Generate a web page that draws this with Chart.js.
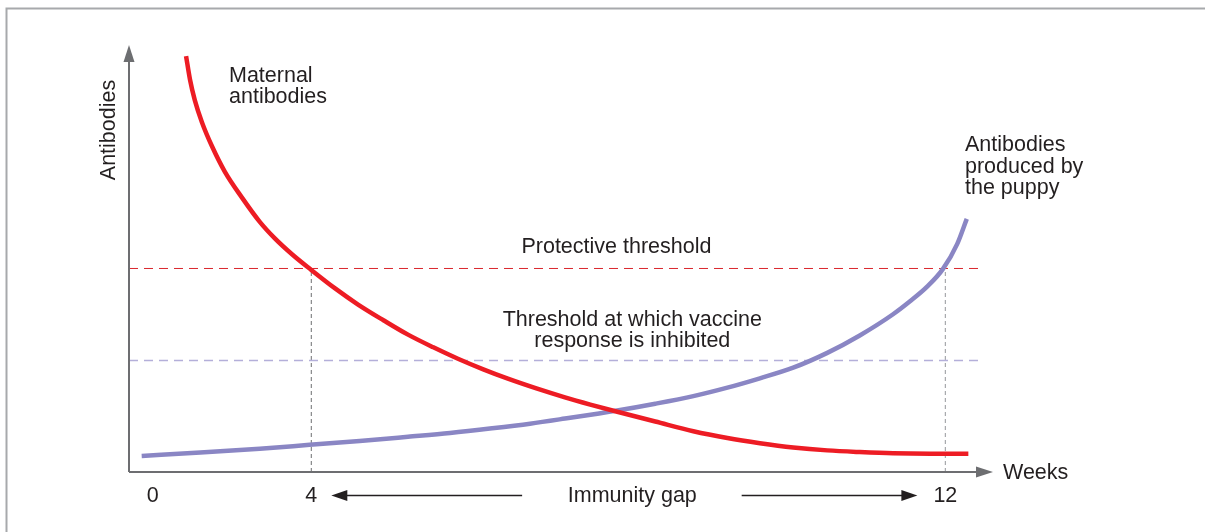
<!DOCTYPE html>
<html>
<head>
<meta charset="utf-8">
<title>Immunity gap</title>
<script src="https://cdn.jsdelivr.net/npm/chart.js@4.4.1/dist/chart.umd.min.js"></script>
<style>
  html, body { margin: 0; padding: 0; background: #fff; }
  #wrap { width: 1205px; height: 532px; }
</style>
</head>
<body>
<div id="wrap"><canvas id="gapChart" width="1205" height="532"></canvas></div>
<script>
// weeks on x, antibody level (0-100, arbitrary) on y
var maternalWeeks  = [2.42, 2.47, 2.53, 2.62, 2.75, 2.91, 3.13, 3.35, 3.54, 3.76, 3.99, 4.30, 4.59, 4.91, 5.22,
                      5.54, 5.85, 6.17, 6.48, 6.84, 7.20, 7.52, 7.86, 8.34, 8.82, 9.25, 9.66, 10.08, 10.51, 10.92, 11.34, 11.81, 12.29];
var maternalLevels = [98.1, 92.5, 87.7, 82.5, 76.7, 70.8, 64.6, 59.0, 55.1, 51.3, 47.8, 43.3, 39.5, 35.8, 32.4,
                      29.4, 26.7, 24.2, 22.0, 19.7, 17.6, 15.9, 14.2, 11.9, 9.6, 8.0, 6.8, 5.8, 5.1, 4.7, 4.4, 4.3, 4.3];

var puppyWeeks  = [1.86, 2.60, 3.35, 3.98, 4.61, 5.22, 5.75, 6.28, 6.76, 7.20, 7.86, 8.34, 8.82, 9.25, 9.66,
                   10.08, 10.51, 10.92, 11.34, 11.55, 11.77, 11.97, 12.15, 12.27];
var puppyLevels = [3.8, 4.6, 5.5, 6.4, 7.3, 8.3, 9.2, 10.3, 11.4, 12.6, 14.5, 16.1, 17.9, 19.9, 22.1,
                   24.6, 28.1, 32.2, 37.2, 40.2, 43.7, 47.9, 53.8, 59.7];

var protectiveLevel = 48.0;
var inhibitionLevel = 26.3;
var thresholdSpan = [1.7, 12.45];
var guideWeeks = [4, 12];

// the "0" label sits near the origin, axis is schematic
var tickWeeks = [2, 4, 12];
var tickLabels = ['0', '4', '12'];

var TXT = '#231f20';
var FONT = '21.5px "Liberation Sans", Arial, Helvetica, sans-serif';
var AXIS = '#6d6e71';

function pts(xs, ys) {
    return xs.map(function(x, i){ return {x: x, y: ys[i]}; });
}

function arrowHead(ctx, tipX, tipY, dir, len, half, color) {
    ctx.save();
    ctx.fillStyle = color;
    ctx.beginPath();
    if (dir == 'up') {
        ctx.moveTo(tipX, tipY);
        ctx.lineTo(tipX - half, tipY + len);
        ctx.lineTo(tipX + half, tipY + len);
    } else if (dir == 'right') {
        ctx.moveTo(tipX, tipY);
        ctx.lineTo(tipX - len, tipY - half);
        ctx.lineTo(tipX - len, tipY + half);
    } else {
        ctx.moveTo(tipX, tipY);
        ctx.lineTo(tipX + len, tipY - half);
        ctx.lineTo(tipX + len, tipY + half);
    }
    ctx.closePath();
    ctx.fill();
    ctx.restore();
}

var decor = {
    id: 'decor',
    beforeDraw: function(chart) {
        var ctx = chart.ctx;
        ctx.save();
        ctx.fillStyle = '#fff';
        ctx.fillRect(0, 0, chart.width, chart.height);
        // frame around the figure
        ctx.strokeStyle = '#a7a9ac';
        ctx.lineWidth = 2;
        ctx.beginPath();
        ctx.moveTo(6.5, chart.height);
        ctx.lineTo(6.5, 8.5);
        ctx.lineTo(chart.width, 8.5);
        ctx.stroke();
        ctx.restore();
    },
    afterDraw: function(chart) {
        var ctx = chart.ctx;
        var xs = chart.scales.x, ys = chart.scales.y;
        var a = chart.chartArea;
        var ox = a.left, oy = a.bottom;

        // axes
        ctx.save();
        ctx.strokeStyle = AXIS;
        ctx.lineWidth = 2;
        ctx.beginPath();
        ctx.moveTo(ox, oy);
        ctx.lineTo(ox, a.top + 12);
        ctx.moveTo(ox, oy);
        ctx.lineTo(a.right - 4, oy);
        ctx.stroke();
        ctx.restore();
        arrowHead(ctx, ox, a.top - 3, 'up', 17, 5.5, AXIS);
        arrowHead(ctx, a.right + 8, oy, 'right', 17, 5.5, AXIS);

        ctx.save();
        ctx.fillStyle = TXT;
        ctx.font = FONT;
        ctx.textBaseline = 'alphabetic';

        // tick labels
        ctx.textAlign = 'center';
        tickWeeks.forEach(function(w, i){
            ctx.fillText(tickLabels[i], xs.getPixelForValue(w), oy + 30);
        });

        // immunity gap arrow row
        var rowY = oy + 23.5;
        ctx.fillText('Immunity gap', xs.getPixelForValue(8.05), oy + 30);
        ctx.strokeStyle = '#231f20';
        ctx.lineWidth = 1.4;
        ctx.beginPath();
        ctx.moveTo(xs.getPixelForValue(4) + 30, rowY);
        ctx.lineTo(xs.getPixelForValue(6.66), rowY);
        ctx.moveTo(xs.getPixelForValue(9.43), rowY);
        ctx.lineTo(xs.getPixelForValue(12) - 40, rowY);
        ctx.stroke();
        arrowHead(ctx, xs.getPixelForValue(4) + 20, rowY, 'left', 16, 5.5, '#231f20');
        arrowHead(ctx, xs.getPixelForValue(12) - 28, rowY, 'right', 16, 5.5, '#231f20');

        // annotations
        ctx.textAlign = 'left';
        ctx.fillText('Weeks', a.right + 18, oy + 7);
        ctx.fillText('Maternal', 229, 82);
        ctx.fillText('antibodies', 229, 102.5);
        ctx.fillText('Antibodies', 965, 151);
        ctx.fillText('produced by', 965, 172.5);
        ctx.fillText('the puppy', 965, 194);

        ctx.textAlign = 'center';
        var midX = xs.getPixelForValue(8.05);
        ctx.fillText('Protective threshold', xs.getPixelForValue(7.85), ys.getPixelForValue(protectiveLevel) - 15);
        ctx.fillText('Threshold at which vaccine', midX, ys.getPixelForValue(inhibitionLevel) - 34);
        ctx.fillText('response is inhibited', midX, ys.getPixelForValue(inhibitionLevel) - 13);

        // y axis title
        ctx.translate(115, 130);
        ctx.rotate(-Math.PI / 2);
        ctx.fillText('Antibodies', 0, 0);
        ctx.restore();
    }
};

var ctx = document.getElementById('gapChart').getContext('2d');
var chart = new Chart(ctx, {
    type: 'line',
    data: {
        datasets: [
            {
                label: 'Maternal antibodies',
                data: pts(maternalWeeks, maternalLevels),
                borderColor: '#ed1c24',
                borderWidth: 4.5,
                cubicInterpolationMode: 'monotone'
            },
            {
                label: 'Antibodies produced by the puppy',
                data: pts(puppyWeeks, puppyLevels),
                borderColor: '#8a86c4',
                borderWidth: 4.5,
                cubicInterpolationMode: 'monotone'
            },
            {
                label: 'Protective threshold',
                data: pts(thresholdSpan, [protectiveLevel, protectiveLevel]),
                borderColor: '#d9262d',
                borderWidth: 1,
                borderDash: [9, 6]
            },
            {
                label: 'Inhibition threshold',
                data: pts(thresholdSpan, [inhibitionLevel, inhibitionLevel]),
                borderColor: '#b4afd9',
                borderWidth: 1.5,
                borderDash: [9, 6]
            },
            {
                label: 'guide 4',
                data: pts([guideWeeks[0], guideWeeks[0]], [0, protectiveLevel]),
                borderColor: '#6d6e71',
                borderWidth: 1,
                borderDash: [4, 3]
            },
            {
                label: 'guide 12',
                data: pts([guideWeeks[1], guideWeeks[1]], [0, protectiveLevel]),
                borderColor: '#a7a9ac',
                borderWidth: 1.2,
                borderDash: [4, 3]
            }
        ]
    },
    options: {
        responsive: false,
        devicePixelRatio: 1,
        animation: false,
        layout: { padding: { left: 129, top: 48, right: 220, bottom: 60 } },
        elements: { point: { radius: 0 } },
        scales: {
            x: { type: 'linear', min: 1.7, max: 12.5, display: false },
            y: { min: 0, max: 100, display: false }
        },
        plugins: {
            legend: { display: false },
            tooltip: { enabled: false }
        }
    },
    plugins: [decor]
});
</script>
</body>
</html>
